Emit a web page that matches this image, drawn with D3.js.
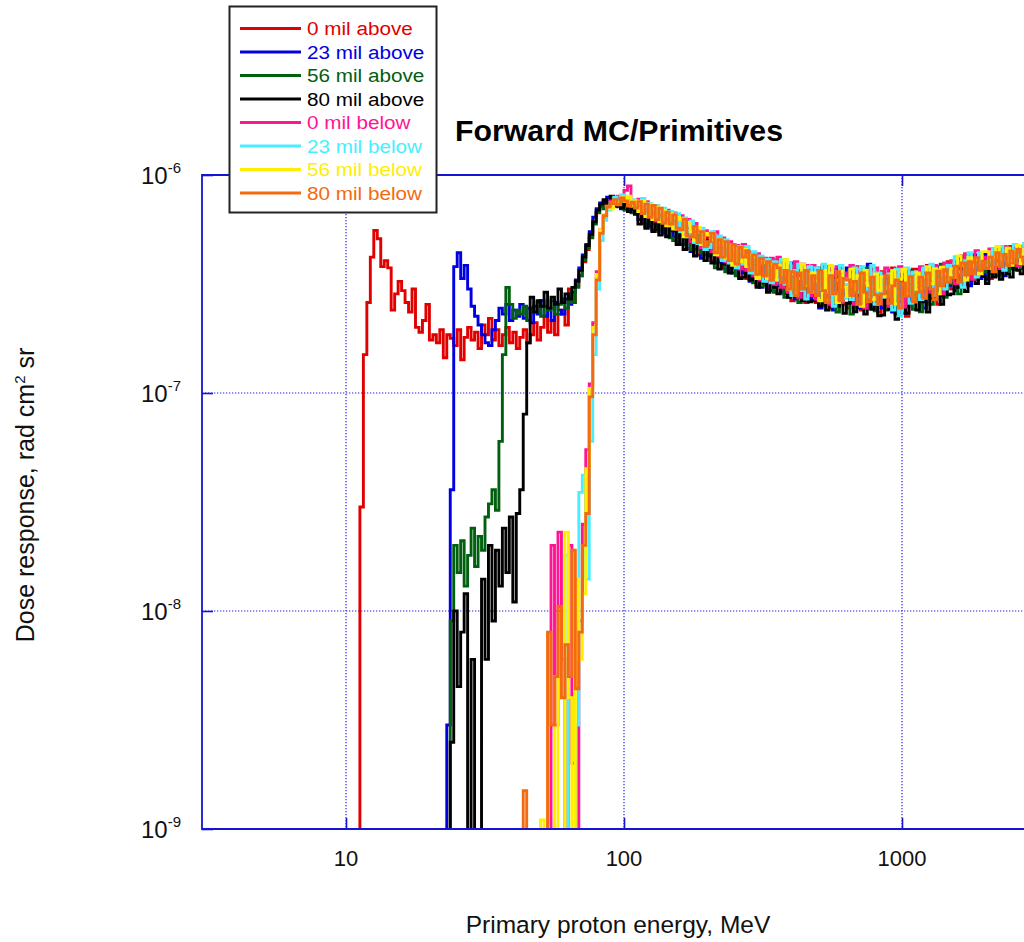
<!DOCTYPE html>
<html>
<head>
<meta charset="utf-8">
<script src="https://cdn.jsdelivr.net/npm/d3@7"></script>
<style>
  body { margin: 0; background: #fff; }
  svg { display: block; }
  text { font-family: "Liberation Sans", Arial, Helvetica, sans-serif; }
</style>
</head>
<body>
<svg id="chart" width="1024" height="942"></svg>
<script>
// Monte Carlo histogram: log-spaced energy bins, 80 per decade, first edge at 10 MeV
const binsPerDecade = 80;
const firstBinLog10 = 1.0;
const doseUnit = 1e-9; // dose values below are in units of 1e-9 rad cm^2 sr (0 = empty bin)

const seriesLabels = ["0 mil above", "23 mil above", "56 mil above", "80 mil above",
                      "0 mil below", "23 mil below", "56 mil below", "80 mil below"];
const seriesColors = ["#e00000", "#0000e0", "#006010", "#000000",
                      "#ff1493", "#48eeff", "#ffee00", "#f46a10"];
const seriesStartBins = [3, 28, 28, 28, 50, 50, 50, 50];

const dose0Above = [
  0, 30, 150, 260, 420, 556, 510, 380, 405, 375,
  240, 285, 325, 295, 260, 235, 300, 200, 190, 215,
  255, 175, 185, 170, 195, 145, 185, 178, 165, 195,
  142, 180, 200, 175, 190, 160, 205, 185, 220, 175,
  195, 165, 185, 200, 170, 190, 160, 180, 195, 170,
  185, 210, 175, 200, 225, 190, 215, 185, 230, 240,
  205, 300, 260, 310, 345, 400, 455, 520, 600, 670, 715,
  745, 700, 770, 735, 790, 720, 765, 700, 735, 680,
  720, 600, 690, 580, 675, 560, 655, 540, 630, 560,
  615, 495, 560, 590, 460, 520, 550, 430, 495, 475,
  525, 405, 465, 500, 375, 460, 370, 430, 460, 340,
  455, 335, 410, 430, 310, 400, 340, 300, 395, 330,
  410, 290, 365, 330, 265, 370, 305, 390, 260, 345,
  370, 260, 335, 385, 280, 245, 355, 300, 375, 255,
  245, 360, 285, 380, 240, 325, 270, 370, 300, 235,
  360, 250, 300, 375, 240, 280, 350, 225, 315, 370,
  370, 262, 330, 385, 272, 355, 255, 375, 305, 400,
  300, 400, 345, 425, 315, 405, 430, 340, 415, 360,
  435, 335, 410, 460, 355, 425, 372, 470, 380, 440,
  455, 385, 430
];

const dose23Above = [
  0, 3, 36, 380, 440, 335, 385, 300, 250, 225, 205,
  185, 170, 165, 195, 215, 245, 230, 255, 215, 240,
  225, 255, 220, 245, 210, 250, 230, 265, 225, 245,
  215, 260, 240, 230, 270, 255, 290, 330, 375, 430,
  480, 550, 640, 700, 745,
  760, 790, 720, 770, 735, 700, 745, 720, 690, 700,
  625, 715, 600, 680, 560, 665, 550, 640, 525, 620,
  520, 605, 480, 515, 570, 445, 515, 505, 415, 500,
  425, 510, 395, 400, 480, 370, 450, 355, 430, 400,
  355, 445, 325, 405, 395, 305, 385, 410, 295, 370,
  310, 395, 285, 360, 395, 270, 350, 290, 365, 270,
  280, 365, 245, 330, 380, 295, 240, 370, 275, 350,
  375, 260, 335, 245, 360, 285, 390, 250, 325, 275,
  245, 335, 280, 235, 360, 300, 232, 330, 270, 350,
  268, 340, 245, 320, 375, 290, 380, 280, 368, 312,
  380, 295, 415, 330, 395, 310, 360, 430, 335, 435,
  332, 420, 358, 405, 455, 345, 440, 372, 460, 405,
  405, 465, 380
];

const dose56Above = [
  0, 0, 9, 20, 15, 21, 13, 18, 24, 16, 22,
  19, 27, 31, 36, 29, 60, 150, 305, 255, 220,
  240, 230, 250, 215, 245, 235, 260, 225, 250, 240,
  265, 230, 255, 270, 245, 285, 260, 305, 345, 405,
  465, 515, 595, 675, 725,
  700, 745, 720, 780, 715, 750, 690, 730, 670, 705,
  670, 705, 580, 665, 600, 575, 555, 625, 600, 515,
  500, 550, 595, 480, 545, 455, 455, 530, 440, 430,
  495, 435, 375, 470, 410, 360, 445, 390, 345, 430,
  415, 345, 440, 320, 350, 415, 310, 335, 385, 290,
  370, 320, 275, 385, 300, 350, 260, 340, 295, 370,
  340, 285, 375, 255, 300, 365, 268, 235, 345, 285,
  300, 230, 355, 310, 255, 375, 245, 320, 238, 350,
  315, 240, 365, 265, 230, 350, 280, 250, 365, 242,
  322, 236, 355, 278, 255, 370, 300, 390, 275, 362,
  318, 368, 285, 400, 430, 345, 410, 330, 405, 360,
  408, 350, 448, 345, 410, 465, 362, 430, 368, 470,
  372, 440, 400
];

const dose80Above = [
  0, 0, 2.5, 10, 4.5, 8, 12, 0, 6, 0, 0,
  14, 6, 20, 9, 19, 13, 24, 15, 27, 11,
  28, 36, 80, 170, 275, 235, 265, 250, 290, 245,
  275, 255, 300, 260, 285, 270, 305, 325, 365, 420,
  475, 535, 610, 690, 735,
  770, 740, 800, 720, 760, 705, 735, 680, 700, 660,
  595, 680, 570, 630, 550, 615, 530, 605, 520, 590,
  555, 480, 530, 455, 515, 495, 425, 485, 470, 405,
  460, 395, 455, 370, 390, 450, 355, 375, 410, 335,
  340, 415, 330, 385, 305, 375, 320, 290, 360, 305,
  285, 355, 310, 275, 340, 285, 365, 265, 310, 262,
  265, 300, 250, 290, 240, 275, 340, 250, 285, 232,
  258, 300, 236, 280, 330, 230, 272, 242, 295, 226,
  228, 290, 242, 315, 218, 262, 330, 232, 258, 282,
  240, 305, 262, 235, 325, 268, 345, 255, 310, 282,
  285, 340, 305, 370, 292, 330, 380, 318, 365, 342,
  318, 382, 340, 372, 332, 392, 352, 340, 405, 365,
  352, 392, 370
];

const dose0Below = [
  0, 0, 0, 0, 0, 0, 0, 0, 0, 20,
  3, 23, 6, 0, 20, 2, 0, 9, 25, 55,
  110, 210, 360, 560,
  640, 700, 760, 730, 800, 770, 850, 890, 745, 720,
  775, 680, 755, 650, 720, 615, 700, 610, 690, 585,
  670, 565, 650, 530, 625, 495, 600, 555, 465, 555,
  540, 445, 550, 425, 515, 400, 495, 390, 475, 370,
  480, 365, 440, 345, 435, 330, 415, 325, 415, 315,
  420, 305, 390, 290, 370, 400, 275, 355, 385, 280,
  385, 270, 355, 290, 375, 255, 345, 380, 260, 355,
  345, 385, 255, 360, 285, 245, 365, 305, 375, 262,
  310, 375, 250, 340, 288, 380, 248, 360, 280, 325,
  335, 380, 280, 360, 290, 385, 330, 285, 395, 352,
  405, 318, 390, 350, 435, 395, 332, 450, 362, 420,
  415, 458, 362, 440, 372, 470, 405, 458, 420, 382,
  470, 405, 460
];

const dose23Below = [
  0, 0, 0, 0, 0, 0, 0, 0, 0, 0,
  0, 0, 0, 18, 0, 0, 3, 35, 42, 14,
  60, 150, 300, 500,
  620, 690, 745, 790, 760, 810, 780, 745, 770, 735,
  700, 780, 660, 740, 635, 725, 625, 705, 600, 680,
  580, 665, 550, 635, 520, 615, 490, 485, 570, 455,
  465, 550, 440, 525, 405, 505, 395, 480, 375, 470,
  390, 470, 355, 445, 340, 425, 325, 410, 320, 400,
  330, 410, 315, 395, 280, 365, 390, 295, 270, 380,
  290, 375, 300, 390, 265, 355, 250, 330, 385, 272,
  315, 268, 375, 290, 380, 320, 275, 385, 255, 355,
  275, 302, 352, 240, 370, 226, 318, 375, 258, 358,
  298, 268, 375, 312, 390, 280, 365, 345, 300, 385,
  345, 422, 360, 305, 405, 440, 378, 340, 440, 400,
  385, 408, 458, 388, 470, 365, 452, 402, 480, 425,
  432, 485, 400
];

const dose56Below = [
  0, 0, 0, 0, 0, 0, 1.1, 0, 0, 0,
  5, 0, 0, 23, 4, 0, 14, 6, 12, 45,
  105, 200, 350, 560,
  660, 720, 700, 760, 740, 790, 755, 800, 720, 760,
  680, 760, 645, 735, 625, 710, 610, 690, 585, 665,
  565, 640, 625, 520, 605, 550, 500, 575, 480, 540,
  530, 505, 430, 505, 480, 415, 475, 385, 460, 400,
  455, 380, 430, 420, 335, 405, 395, 335, 390, 330,
  385, 350, 410, 300, 355, 285, 335, 390, 310, 350,
  355, 325, 265, 365, 295, 385, 285, 260, 360, 305,
  278, 370, 298, 345, 250, 365, 312, 268, 352, 296,
  342, 278, 308, 365, 256, 332, 370, 285, 340, 262,
  355, 302, 340, 380, 318, 372, 285, 378, 352, 328,
  372, 340, 425, 385, 330, 418, 385, 410, 352, 445,
  445, 372, 418, 470, 412, 432, 462, 385, 450, 475,
  392, 455, 478
];

const dose80Below = [
  0, 1.5, 0, 0, 0, 0, 0, 0, 8, 3,
  5, 10.5, 4, 7, 5, 19, 4.4, 8, 20, 28,
  96, 185, 330, 540,
  650, 715, 740, 770, 730, 785, 760, 720, 750, 705,
  755, 665, 735, 640, 725, 625, 705, 600, 675, 595,
  655, 570, 560, 625, 525, 520, 580, 490, 550, 470,
  495, 540, 440, 505, 420, 495, 405, 480, 390, 465,
  420, 450, 365, 430, 350, 415, 345, 400, 330, 390,
  375, 320, 365, 300, 360, 280, 355, 300, 365, 290,
  345, 280, 365, 295, 260, 345, 285, 360, 265, 335,
  330, 280, 325, 255, 355, 290, 262, 340, 282, 256,
  285, 345, 258, 310, 330, 245, 320, 278, 342, 262,
  290, 340, 272, 355, 300, 268, 362, 310, 368, 322,
  338, 382, 322, 395, 348, 400, 352, 418, 365, 402,
  372, 420, 360, 440, 380, 432, 385, 448, 395, 455,
  420, 390, 445
];

const seriesDose = [dose0Above, dose23Above, dose56Above, dose80Above,
                    dose0Below, dose23Below, dose56Below, dose80Below];

const xTickValues = [10, 100, 1000];
const yTickValues = [1e-9, 1e-8, 1e-7, 1e-6];
const yTickExponents = ["-9", "-8", "-7", "-6"];

// ---- layout ----
const frame = { left: 202, top: 175, bottom: 829, right: 1180 };
const svg = d3.select("#chart");

const x = d3.scaleLog().domain([3.034, 1e4]).range([frame.left, frame.right]);
const y = d3.scaleLog().domain([1e-9, 1e-6]).range([frame.bottom, frame.top]);

const axisBlue = "#1414d2";
const gridBlue = "#2323e6";

svg.append("rect").attr("width", 1024).attr("height", 942).attr("fill", "#fff");

// dotted decade grid
const grid = svg.append("g");
grid.selectAll("line.vx").data(xTickValues).join("line")
  .attr("x1", d => x(d)).attr("x2", d => x(d))
  .attr("y1", frame.top).attr("y2", frame.bottom)
  .attr("stroke", gridBlue).attr("stroke-width", 1.2).attr("stroke-dasharray", "1.3,1.7");
grid.selectAll("line.hy").data(yTickValues.slice(1, 3)).join("line")
  .attr("x1", frame.left).attr("x2", frame.right)
  .attr("y1", d => y(d)).attr("y2", d => y(d))
  .attr("stroke", gridBlue).attr("stroke-width", 1.2).attr("stroke-dasharray", "1.3,1.7");

// inward decade ticks
const tickLen = 11;
svg.append("g").attr("transform", `translate(0,${frame.bottom})`)
  .call(d3.axisBottom(x).tickValues(xTickValues).tickSize(-tickLen).tickFormat(""))
  .call(g => g.select(".domain").remove())
  .call(g => g.selectAll(".tick line").attr("stroke", axisBlue).attr("stroke-width", 1.6));
svg.append("g").attr("transform", `translate(0,${frame.top})`)
  .call(d3.axisTop(x).tickValues(xTickValues).tickSize(-tickLen).tickFormat(""))
  .call(g => g.select(".domain").remove())
  .call(g => g.selectAll(".tick line").attr("stroke", axisBlue).attr("stroke-width", 1.6));
svg.append("g").attr("transform", `translate(${frame.left},0)`)
  .call(d3.axisLeft(y).tickValues(yTickValues).tickSize(-tickLen).tickFormat(""))
  .call(g => g.select(".domain").remove())
  .call(g => g.selectAll(".tick line").attr("stroke", axisBlue).attr("stroke-width", 1.6));

// data curves (step histograms), clipped to the frame
svg.append("defs").append("clipPath").attr("id", "plotClip")
  .append("rect").attr("x", frame.left).attr("y", frame.top)
  .attr("width", frame.right - frame.left).attr("height", frame.bottom - frame.top);

const edge = i => Math.pow(10, firstBinLog10 + i / binsPerDecade);
const yOf = v => v > 0 ? y(v * doseUnit) : frame.bottom + 12;
const stepLine = d3.line().x(d => x(d[0])).y(d => yOf(d[1])).curve(d3.curveStepAfter);

const curves = svg.append("g").attr("clip-path", "url(#plotClip)");
seriesDose.forEach((vals, s) => {
  const b0 = seriesStartBins[s];
  const pts = vals.map((v, k) => [edge(b0 + k), v]);
  pts.push([edge(b0 + vals.length), vals[vals.length - 1]]);
  curves.append("path").datum(pts)
    .attr("d", stepLine)
    .attr("fill", "none")
    .attr("stroke", seriesColors[s])
    .attr("stroke-width", 2.9)
    .attr("stroke-linejoin", "miter");
});

// frame (right side lies beyond the visible area)
svg.append("path")
  .attr("d", `M${frame.right},${frame.top}H${frame.left}V${frame.bottom}H${frame.right}`)
  .attr("fill", "none").attr("stroke", axisBlue).attr("stroke-width", 1.8);

// tick labels
svg.append("g").selectAll("text").data(xTickValues).join("text")
  .attr("x", d => x(d)).attr("y", 866)
  .attr("text-anchor", "middle").attr("font-size", 22).attr("fill", "#111")
  .text(d => d3.format("d")(d));

const yLab = svg.append("g").selectAll("text").data(yTickValues).join("text")
  .attr("x", 181).attr("y", d => y(d) + 9)
  .attr("text-anchor", "end").attr("font-size", 24).attr("fill", "#111");
yLab.append("tspan").text("10");
yLab.append("tspan").attr("dy", -11).attr("font-size", 15).text((d, i) => yTickExponents[i]);

// titles
svg.append("text").attr("x", 619).attr("y", 141)
  .attr("text-anchor", "middle").attr("font-size", 29).attr("font-weight", "bold")
  .attr("textLength", 328).attr("lengthAdjust", "spacingAndGlyphs")
  .attr("fill", "#000").text("Forward MC/Primitives");

svg.append("text").attr("x", 618).attr("y", 933)
  .attr("text-anchor", "middle").attr("font-size", 24.5).attr("fill", "#111")
  .text("Primary proton energy, MeV");

const yTitle = svg.append("text")
  .attr("transform", "translate(34,495) rotate(-90)")
  .attr("text-anchor", "middle").attr("font-size", 25).attr("fill", "#111");
yTitle.append("tspan").text("Dose response, rad cm");
yTitle.append("tspan").attr("dy", -9).attr("font-size", 15).text("2");
yTitle.append("tspan").attr("dy", 9).text(" sr");

// legend
const legend = svg.append("g");
legend.append("rect").attr("x", 229.5).attr("y", 6.5).attr("width", 207).attr("height", 206)
  .attr("fill", "#fff").attr("stroke", "#222").attr("stroke-width", 2);
const rows = legend.selectAll("g.row").data(seriesLabels).join("g")
  .attr("transform", (d, i) => `translate(0,${28.5 + i * 23.5})`);
rows.append("line").attr("x1", 240).attr("x2", 301).attr("y1", 0).attr("y2", 0)
  .attr("stroke", (d, i) => seriesColors[i]).attr("stroke-width", 2.8);
rows.append("text").attr("transform", "translate(307,6.5) scale(1.09,1)").attr("font-size", 19)
  .attr("fill", (d, i) => seriesColors[i]).text(d => d);
</script>
</body>
</html>
